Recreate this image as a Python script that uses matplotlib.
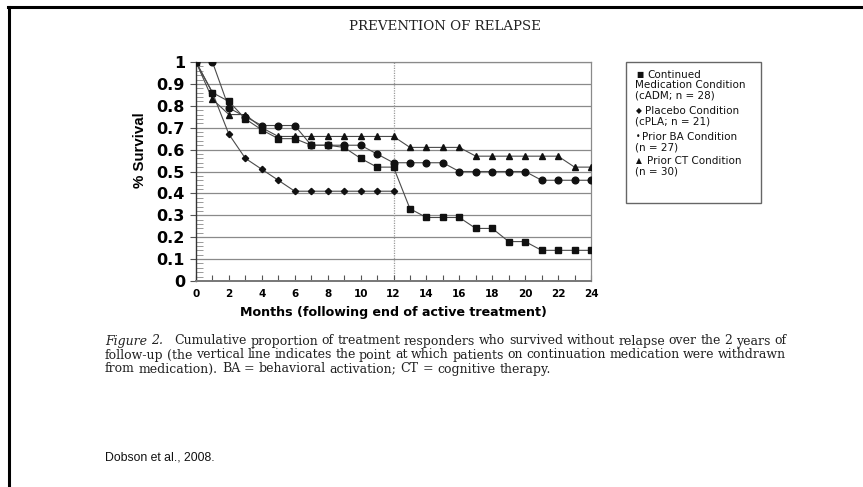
import matplotlib
matplotlib.use("Agg")
import matplotlib.pyplot as plt
from matplotlib.lines import Line2D
from matplotlib.patches import Rectangle
from matplotlib.ticker import FixedLocator, MultipleLocator

# ---------------- data ----------------
months = list(range(0, 25))
cadm = [1.00, 0.86, 0.82, 0.74, 0.69, 0.65, 0.65, 0.62, 0.62, 0.61, 0.56, 0.52, 0.52,
        0.33, 0.29, 0.29, 0.29, 0.24, 0.24, 0.18, 0.18, 0.14, 0.14, 0.14, 0.14]
cpla_months = list(range(0, 13))
cpla = [1.00, 0.86, 0.67, 0.56, 0.51, 0.46, 0.41, 0.41, 0.41, 0.41, 0.41, 0.41, 0.41]
ba = [1.00, 1.00, 0.79, 0.75, 0.71, 0.71, 0.71, 0.62, 0.62, 0.62, 0.62, 0.58, 0.54,
      0.54, 0.54, 0.54, 0.50, 0.50, 0.50, 0.50, 0.50, 0.46, 0.46, 0.46, 0.46]
ct = [1.00, 0.83, 0.76, 0.76, 0.70, 0.66, 0.66, 0.66, 0.66, 0.66, 0.66, 0.66, 0.66,
      0.61, 0.61, 0.61, 0.61, 0.57, 0.57, 0.57, 0.57, 0.57, 0.57, 0.52, 0.52]

y_ticks = [0, 0.1, 0.2, 0.3, 0.4, 0.5, 0.6, 0.7, 0.8, 0.9, 1]
y_ticklabels = ["0", "0.1", "0.2", "0.3", "0.4", "0.5", "0.6", "0.7", "0.8", "0.9", "1"]
x_ticks = [0, 2, 4, 6, 8, 10, 12, 14, 16, 18, 20, 22, 24]
x_ticklabels = [str(v) for v in x_ticks]
withdrawal_month = 12

legend_symbols = ["\u25A0", "\u25C6", "\u2022", "\u25B2"]
legend_first = ["Continued", "Placebo Condition", "Prior BA Condition", "Prior CT Condition"]
legend_rest = [["Medication Condition", "(cADM; n = 28)"], ["(cPLA; n = 21)"],
               ["(n = 27)"], ["(n = 30)"]]

title = "PREVENTION OF RELAPSE"
caption_fig = ["Figure", "2."]
caption_l1 = "Cumulative proportion of treatment responders who survived without relapse over the 2 years of"
caption_l2 = "follow-up (the vertical line indicates the point at which patients on continuation medication were withdrawn"
caption_l3 = "from medication). BA = behavioral activation; CT = cognitive therapy."
source = "Dobson et al., 2008."

# ---------------- figure ----------------
W, H = 863, 487
fig = plt.figure(figsize=(W / 100, H / 100), dpi=100)
fig.patch.set_facecolor("white")
renderer = fig.canvas.get_renderer()


def fx(px):
    return px / W


def fy(py):
    return 1 - py / H


def width_px(t):
    return t.get_window_extent(renderer=renderer).width


def fit_width(t, target):
    fs = t.get_fontsize()
    t.set_fontsize(fs * target / width_px(t))
    return t


# page border lines (top and left)
fig.add_artist(Line2D([fx(8), fx(863)], [fy(7), fy(7)], color="black", lw=2.2))
fig.add_artist(Line2D([fx(9), fx(9)], [fy(7), fy(487)], color="black", lw=2.2))

ax = fig.add_axes([fx(196), fy(281), fx(591) - fx(196), fy(62) - fy(281)])
ax.set_xlim(0, 24)
ax.set_ylim(0, 1)

grid_c = "#8a8a8a"
for v in y_ticks[1:]:
    ax.axhline(v, color=grid_c, lw=0.9, zorder=1)
ax.axvline(withdrawal_month, color="#9a9a9a", lw=0.9, ls=(0, (1, 1)), zorder=1)

line_c = "#4a4a4a"
mk_c = "#111111"
ax.plot(cpla_months, cpla, color=line_c, lw=0.8, marker="D", ms=3.2,
        mfc=mk_c, mec=mk_c, zorder=3)
ax.plot(months, ct, color=line_c, lw=0.8, marker="^", ms=5,
        mfc=mk_c, mec=mk_c, zorder=3)
ax.plot(months, ba, color=line_c, lw=0.8, marker="o", ms=4.8,
        mfc=mk_c, mec=mk_c, zorder=3)
ax.plot(months, cadm, color=line_c, lw=0.8, marker="s", ms=5,
        mfc=mk_c, mec=mk_c, zorder=4)

for s in ["top", "right"]:
    ax.spines[s].set_color(grid_c)
    ax.spines[s].set_linewidth(0.9)
ax.spines["left"].set_color("#333333")
ax.spines["left"].set_linewidth(1.0)
ax.spines["bottom"].set_color("#777777")
ax.spines["bottom"].set_linewidth(1.4)

ax.yaxis.set_major_locator(FixedLocator(y_ticks))
ax.set_yticklabels(y_ticklabels, fontsize=11.5, fontweight="bold",
                   family="DejaVu Sans")
ax.yaxis.set_minor_locator(MultipleLocator(0.02))
ax.tick_params(axis="y", which="major", direction="out", length=4, width=0.8,
               color="#555555", pad=4)
ax.tick_params(axis="y", which="minor", direction="in", length=5, width=0.7,
               color="#999999")

ax.xaxis.set_major_locator(FixedLocator(x_ticks))
ax.set_xticklabels(x_ticklabels, fontsize=7.5, fontweight="bold",
                   family="DejaVu Sans")
ax.xaxis.set_minor_locator(MultipleLocator(1))
ax.tick_params(axis="x", which="both", direction="in", length=4, width=0.8,
               color="#555555", pad=6)

ax.set_xlabel("Months (following end of active treatment)", fontsize=9.1,
              fontweight="bold", family="DejaVu Sans", labelpad=5)
ax.set_ylabel("% Survival", fontsize=10.8, fontweight="bold",
              family="Liberation Sans")
ax.yaxis.set_label_coords(-0.124, 0.598)

# legend box
fig.add_artist(Rectangle((fx(626), fy(203)), fx(761) - fx(626), fy(62) - fy(203),
                         fill=False, edgecolor="#666666", lw=1.0))
leg_fs = 7.5
leg_y = [75, 85.3, 95.6, 111, 121.3, 136.7, 147.7, 161, 171.7]
sym_x = [636, 636, 636, 636]
first_x = [647, 645, 642, 647]
k = 0
for i in range(len(legend_symbols)):
    fig.text(fx(sym_x[i]), fy(leg_y[k]), legend_symbols[i], fontsize=5.5,
             va="center", ha="left", family="DejaVu Sans", color="#111111")
    fig.text(fx(first_x[i]), fy(leg_y[k]), legend_first[i], fontsize=leg_fs,
             va="center", ha="left", family="DejaVu Sans", color="#111111")
    k += 1
    for r in legend_rest[i]:
        fig.text(fx(635), fy(leg_y[k]), r, fontsize=leg_fs, va="center",
                 ha="left", family="DejaVu Sans", color="#111111")
        k += 1

# title
tt = fig.text(fx(445), fy(27), title, fontsize=9, ha="center", va="center",
              family="DejaVu Serif", color="#222222")
fit_width(tt, 192)

# caption
left_px, right_px = 105, 786
probe = fig.text(0, 0, caption_l3, fontsize=9, family="DejaVu Serif")
fit_width(probe, 447)
cap_fs = probe.get_fontsize()
probe.remove()


def caption_line(prefix, text, ypx, justify=True):
    items = [(w, "italic") for w in prefix] + [(w, "normal") for w in text.split(" ")]
    texts, widths = [], []
    for w, style in items:
        t = fig.text(0, fy(ypx), w, fontsize=cap_fs, family="DejaVu Serif",
                     style=style, va="center", ha="left", color="#222222")
        texts.append(t)
        widths.append(width_px(t))
    space = cap_fs * 100 / 72 * 0.318
    extra_after_prefix = 8 if prefix else 0
    n_gaps = len(items) - 1
    if justify:
        gap = (right_px - left_px - sum(widths) - extra_after_prefix) / n_gaps
    else:
        gap = space
    x = left_px
    for i, (t, wd) in enumerate(zip(texts, widths)):
        t.set_x(fx(x))
        x += wd + gap
        if prefix and i == len(prefix) - 1:
            x += extra_after_prefix


caption_line(caption_fig, caption_l1, 341)
caption_line([], caption_l2, 355)
caption_line([], caption_l3, 369, justify=False)

fig.text(fx(105), fy(458), source, fontsize=8.8, family="Liberation Sans",
         va="center", ha="left", color="#111111")

fig.savefig("out.png", dpi=100)
